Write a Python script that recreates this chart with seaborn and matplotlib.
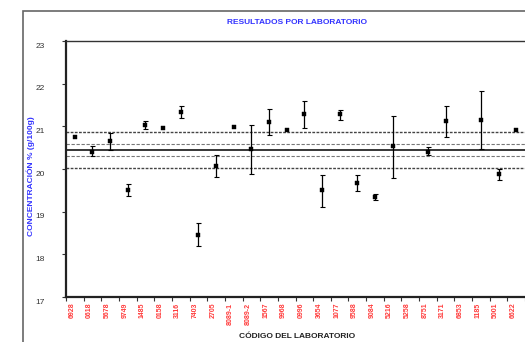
import numpy as np
import pandas as pd
import matplotlib
matplotlib.use('Agg')
import matplotlib.pyplot as plt
import matplotlib.transforms as mtransforms
from matplotlib.patches import Rectangle
import seaborn as sns

# Laboratory codes and reported results
codes = ['6928', '0618', '5678', '9749', '1485', '0158', '3116', '7403', '2705',
         '8089-1', '8089-2', '1567', '9968', '0996', '3654', '1077', '9588', '9084',
         '5216', '5258', '8751', '3171', '6853', '1185', '5001', '6622']
values = [20.76, 20.41, 20.65, 19.50, 21.03, 20.96, 21.34, 18.46, 20.08,
          20.98, 20.46, 21.11, 20.92, 21.28, 19.50, 21.28, 19.68, 19.35,
          20.53, np.nan, 20.41, 21.13, np.nan, 21.16, 19.88, 20.91]
err_low = [np.nan, 20.30, 20.45, 19.37, 20.93, np.nan, 21.19, 18.19, 19.82,
           np.nan, 19.88, 20.80, np.nan, 20.96, 19.12, 21.16, 19.49, 19.27,
           19.80, np.nan, 20.33, 20.76, np.nan, 20.46, 19.75, np.nan]
err_high = [np.nan, 20.53, 20.85, 19.65, 21.12, np.nan, 21.48, 18.73, 20.33,
            np.nan, 21.02, 21.41, np.nan, 21.60, 19.86, 21.38, 19.87, 19.41,
            21.24, np.nan, 20.51, 21.48, np.nan, 21.82, 20.01, np.nan]

# Reference lines: assigned value, +-uncertainty, +-tolerance
ref_value = 20.45
inner_limits = [20.59, 20.31]
outer_limits = [20.87, 20.03]

df = pd.DataFrame({'pos': np.arange(len(codes)), 'code': codes, 'value': values,
                   'low': err_low, 'high': err_high})

sns.set_style('white')
plt.rcParams['font.family'] = ['Liberation Sans', 'DejaVu Sans']

fig = plt.figure(figsize=(5.25, 3.42), dpi=100)
ax = fig.add_axes([66 / 525, 1 - 297 / 342, 1 - 66 / 525, (297 - 41) / 342])

# reference lines
ax.axhline(ref_value, color='black', lw=1.1, zorder=1)
for v in inner_limits:
    ax.axhline(v, color='#777777', lw=0.8, ls=(0, (3, 1.5)), zorder=1)
for v in outer_limits:
    ax.axhline(v, color='#444444', lw=1.0, ls=(0, (2, 1)), zorder=1)

# error bars
eb = df.dropna(subset=['low'])
ax.errorbar(eb['pos'], eb['value'],
            yerr=[eb['value'] - eb['low'], eb['high'] - eb['value']],
            fmt='none', ecolor='black', elinewidth=0.9, capsize=1.8, capthick=0.8,
            zorder=2)

sns.scatterplot(data=df.dropna(subset=['value']), x='pos', y='value', ax=ax,
                marker='s', s=9, color='black', edgecolor='black', linewidth=0.3,
                zorder=3, legend=False)

ax.set_xlim(-0.5, len(codes) - 0.5)
ax.set_ylim(17, 23)
ax.set_xlabel('')
ax.set_ylabel('')

# y ticks
ax.set_yticks(np.arange(17, 24, 1))
ax.tick_params(axis='y', which='major', direction='out', length=3, width=0.8,
               color='#333333', labelsize=6, labelcolor='#333333', pad=12, left=True)
offset_y = mtransforms.ScaledTranslation(0, -4 / 100, fig.dpi_scale_trans)
for lab in ax.get_yticklabels():
    lab.set_transform(lab.get_transform() + offset_y)

# x ticks: labels at centres, tick marks at boundaries
ax.set_xticks(df['pos'])
ax.set_xticklabels(codes, rotation=90, fontsize=5, color='#FF3B3B',
                   fontweight='bold')
ax.set_xticks(np.arange(-0.5, len(codes), 1), minor=True)
ax.tick_params(axis='x', which='major', length=0, pad=4)
ax.tick_params(axis='x', which='minor', direction='out', length=3, width=0.8,
               color='#333333', bottom=True)
offset_x = mtransforms.ScaledTranslation(-3 / 100, 0, fig.dpi_scale_trans)
for lab in ax.get_xticklabels():
    lab.set_transform(lab.get_transform() + offset_x)

for side in ['left', 'bottom']:
    ax.spines[side].set_color('#222222')
    ax.spines[side].set_linewidth(1.6)
ax.spines['top'].set_color('#333333')
ax.spines['top'].set_linewidth(1.0)
ax.spines['right'].set_visible(False)
ax.grid(False)

# outer chart border
fig.add_artist(Rectangle((23 / 525, -0.2), 1.2, 1.2 - 11 / 342,
                         transform=fig.transFigure, fill=False,
                         edgecolor='#666666', lw=1.2, clip_on=False, zorder=0))

fig.text(0.565, 1 - 22 / 342, 'RESULTADOS POR LABORATORIO', ha='center', va='center',
         fontsize=6, fontweight='bold', color='#3333FF')
fig.text(31 / 525, 1 - 176 / 342, 'CONCENTRACIÓN % (g/100g)', ha='center', va='center',
         rotation=90, fontsize=6, fontweight='bold', color='#3333FF')
fig.text(0.565, 1.5 / 342, 'CÓDIGO DEL LABORATORIO', ha='center', va='bottom',
         fontsize=6, fontweight='bold', color='#222222')

fig.savefig('out.png', dpi=100)
